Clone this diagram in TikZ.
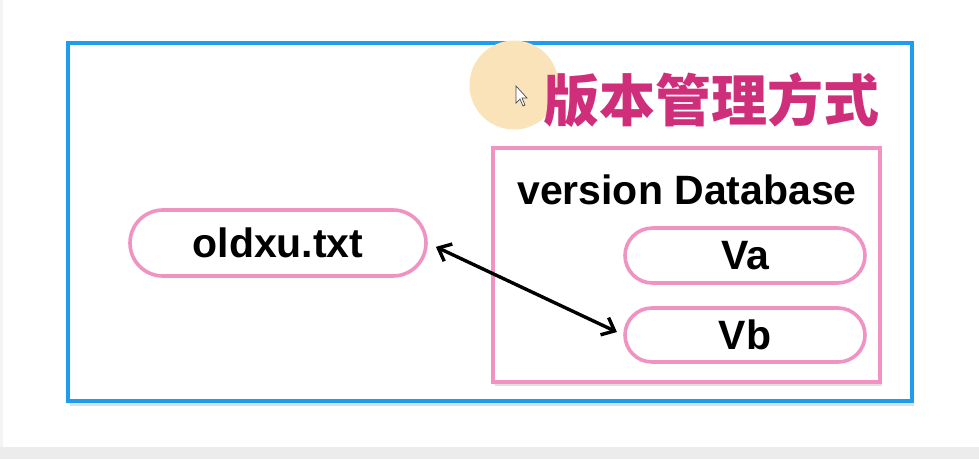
\documentclass[tikz,border=0pt]{standalone}
\usepackage{fontspec}
\setmainfont{Liberation Sans}
\newfontfamily\cjk{Noto Sans CJK SC}
\usetikzlibrary{arrows.meta,shadows,shapes.misc}
\definecolor{frameblue}{RGB}{30,157,236}
\definecolor{pinkline}{RGB}{240,146,194}
\definecolor{titlemag}{RGB}{206,46,122}
\definecolor{spot}{RGB}{250,227,185}
\definecolor{bandgray}{RGB}{236,236,236}
\tikzset{
  pill/.style={draw=pinkline, line width=3.6pt, rounded rectangle, fill=white,
    font=\fontsize{41}{41}\selectfont\bfseries, inner sep=0pt},
  dbbox/.style={draw=pinkline, line width=4.5pt, fill=white,
    drop shadow={shadow xshift=2pt, shadow yshift=-4pt, opacity=0.25}},
  outerframe/.style={draw=frameblue, line width=4.5pt, fill=white,
    drop shadow={shadow xshift=2pt, shadow yshift=-5pt, opacity=0.25}},
  link/.style={line width=3.4pt, {Straight Barb[length=11pt,width=19pt]}-{Straight Barb[length=11pt,width=19pt]}, shorten <=9pt, shorten >=7pt}
}
\begin{document}
\begin{tikzpicture}[x=1pt,y=-1pt]
\useasboundingbox (0,0) rectangle (979,459);
\fill[white] (0,0) rectangle (979,459);
\fill[bandgray] (0,447) rectangle (979,459);
\fill[bandgray!60] (0,0) rectangle (3,447);
% outer frame
\node[outerframe, minimum width=844pt, minimum height=358pt, inner sep=0pt] (frame) at (490,222) {};
% cursor highlight
\fill[spot] (514,85) circle (44.5pt);
\draw[fill=white, draw=black!70, line width=0.7pt] (516,86) -- (516,103) -- (520,99) -- (523,106) -- (525,105) -- (522,98) -- (527,98) -- cycle;
% title
\node[text=titlemag, font=\cjk\fontsize{56}{56}\selectfont\bfseries, inner sep=0pt] (title) at (711,100) {版本管理方式};
% database box
\node[dbbox, minimum width=387pt, minimum height=234pt, inner sep=0pt] (db) at (686.5,265) {};
\node[font=\fontsize{41}{41}\selectfont\bfseries, inner sep=0pt] (dblabel) at (687,190) {version Database};
% pills
\node[pill, minimum width=240pt, minimum height=55pt] (va) at (745,255.5) {Va};
\node[pill, minimum width=240pt, minimum height=54pt] (vb) at (745,335) {Vb};
\node[pill, minimum width=296pt, minimum height=66pt] (old) at (278,243) {oldxu.txt};
% connector
\draw[link] (old.east) -- (vb.west);
\end{tikzpicture}
\end{document}
